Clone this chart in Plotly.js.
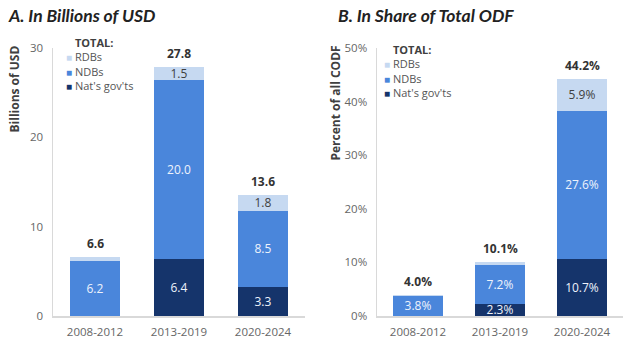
<!DOCTYPE html>
<html><head><meta charset="utf-8">
<script src="https://cdn.plot.ly/plotly-3.0.1.min.js"></script>
<style>html,body{margin:0;padding:0;background:#fff}#chart{width:636px;height:356px}</style>
</head><body><div id="chart"></div>
<script>
// ---- data ----
const periods = ["2008-2012", "2013-2019", "2020-2024"];
const seriesNames = ["Nat's gov'ts", "NDBs", "RDBs"];
// Panel A: billions of USD
const govUSD = [0, 6.4, 3.3];
const ndbUSD = [6.2, 20.0, 8.5];
const rdbUSD = [0.4, 1.5, 1.8];
const totalUSD = [6.6, 27.8, 13.6];
const govUSDLabels = ["", "6.4", "3.3"];
const ndbUSDLabels = ["6.2", "20.0", "8.5"];
const rdbUSDLabels = ["", "1.5", "1.8"];
// Panel B: share of total ODF (%)
const govPct = [0, 2.3, 10.7];
const ndbPct = [3.8, 7.2, 27.6];
const rdbPct = [0.2, 0.6, 5.9];
const totalPct = [4.0, 10.1, 44.2];
const govPctLabels = ["", "2.3%", "10.7%"];
const ndbPctLabels = ["3.8%", "7.2%", "27.6%"];
const rdbPctLabels = ["", "", "5.9%"];
const yTicksUSD = [0, 10, 20, 30];
const yTicksPct = [0, 10, 20, 30, 40, 50];

// ---- styles ----
const colors = {gov: "#15346b", ndb: "#4a86db", rdb: "#c6d9f1"};
const lightText = "#eef3fb", darkText = "#404040";
const tickFont = {family: "Open Sans", size: 11.5, color: "#666666"};
const labelFont = (c) => ({family: "Open Sans", size: 12, color: c});

function barTrace(x, y, text, color, tcol, xa, ya, name) {
  return {type: "bar", x: x, y: y, text: text, name: name, xaxis: xa, yaxis: ya,
    marker: {color: color, line: {width: 0}}, width: 0.6,
    textposition: "inside", insidetextanchor: "middle", constraintext: "none",
    textfont: labelFont(tcol), hoverinfo: "x+y+name", showlegend: false};
}
// stack heights (for placing total labels above each stacked bar)
const stackTop = (a, b, c) => a.map((v, i) => v + b[i] + c[i]);
function totalAnns(x, tops, labels, xa, ya) {
  return x.map((xv, i) => ({xref: xa, yref: ya, x: xv, y: tops[i], xanchor: "center", yanchor: "bottom",
    yshift: 3, showarrow: false, text: "<b>" + labels[i] + "</b>",
    font: {family: "Open Sans", size: 12, color: "#333333"}}));
}

const data = [
  barTrace(periods, govUSD, govUSDLabels, colors.gov, lightText, "x", "y", seriesNames[0]),
  barTrace(periods, ndbUSD, ndbUSDLabels, colors.ndb, lightText, "x", "y", seriesNames[1]),
  barTrace(periods, rdbUSD, rdbUSDLabels, colors.rdb, darkText, "x", "y", seriesNames[2]),
  barTrace(periods, govPct, govPctLabels, colors.gov, lightText, "x2", "y2", seriesNames[0]),
  barTrace(periods, ndbPct, ndbPctLabels, colors.ndb, lightText, "x2", "y2", seriesNames[1]),
  barTrace(periods, rdbPct, rdbPctLabels, colors.rdb, darkText, "x2", "y2", seriesNames[2])
];

const W = 636, H = 356;
const px = v => v / W, py = v => 1 - v / H;
const axisX = {type: "category", showline: true, linecolor: "#d9d9d9", linewidth: 1.5,
  ticks: "", showgrid: false, zeroline: false, tickfont: tickFont, ticklabelstandoff: 5};
const axisY = {showline: true, linecolor: "#d9d9d9", linewidth: 1.5, ticks: "",
  showgrid: false, zeroline: false, tickfont: tickFont, ticklabelstandoff: 6};

// legend drawn as one multi-line text block: "TOTAL:" then RDBs, NDBs, Nat's gov'ts
function legendAnn(x0, yTop) {
  const items = [[seriesNames[2], colors.rdb], [seriesNames[1], colors.ndb], [seriesNames[0], colors.gov]];
  const sq = c => '<span style="color:' + c + ';font-size:10px">■</span> ';
  const lines = [sq("rgba(0,0,0,0)") + '<b><span style="color:#404040">TOTAL:</span></b>']
    .concat(items.map(it => sq(it[1]) + it[0]));
  return [{xref: "paper", yref: "paper", x: px(x0), y: py(yTop), xanchor: "left", yanchor: "top",
    align: "left", showarrow: false, text: lines.join("<br>"),
    font: {family: "Open Sans", size: 11, color: "#555555"}}];
}

const layout = {
  width: W, height: H, margin: {l: 0, r: 0, t: 0, b: 0},
  paper_bgcolor: "#ffffff", plot_bgcolor: "#ffffff",
  barmode: "stack", showlegend: false,
  xaxis: Object.assign({}, axisX, {domain: [px(53), px(305)], anchor: "y", range: [-0.5, 2.5]}),
  yaxis: Object.assign({}, axisY, {domain: [1 - 316 / H, 1 - 48 / H], anchor: "x", range: [0, 30],
    tickvals: yTicksUSD, ticktext: yTicksUSD.map(String)}),
  xaxis2: Object.assign({}, axisX, {domain: [px(377), px(623)], anchor: "y2", range: [-0.5, 2.5]}),
  yaxis2: Object.assign({}, axisY, {domain: [1 - 316 / H, 1 - 48 / H], anchor: "x2", range: [0, 50],
    tickvals: yTicksPct, ticktext: yTicksPct.map(v => v + "%")}),
  annotations: [
    {xref: "paper", yref: "paper", x: px(6), y: py(15), xanchor: "left", yanchor: "middle", showarrow: false,
      text: "A. In Billions of USD", font: {family: "Lato", size: 17.5, weight: 700, style: "italic", color: "#222222"}},
    {xref: "paper", yref: "paper", x: px(336), y: py(15), xanchor: "left", yanchor: "middle", showarrow: false,
      text: "B. In Share of Total ODF", font: {family: "Lato", size: 17.5, weight: 700, style: "italic", color: "#222222"}},
    {xref: "paper", yref: "paper", x: px(14), y: py(44), xanchor: "center", yanchor: "top", textangle: -90, showarrow: false,
      text: "<b>Billions of USD</b>", font: {family: "Open Sans", size: 12, color: "#404040"}},
    {xref: "paper", yref: "paper", x: px(335), y: py(44), xanchor: "center", yanchor: "top", textangle: -90, showarrow: false,
      text: "<b>Percent of all CODF</b>", font: {family: "Open Sans", size: 12, color: "#404040"}}
  ].concat(legendAnn(64, 33)).concat(legendAnn(382, 40))
   .concat(totalAnns(periods, stackTop(govUSD, ndbUSD, rdbUSD), totalUSD.map(v => v.toFixed(1)), "x", "y"))
   .concat(totalAnns(periods, stackTop(govPct, ndbPct, rdbPct), totalPct.map(v => v.toFixed(1) + "%"), "x2", "y2"))
};

Plotly.newPlot("chart", data, layout, {displayModeBar: false, staticPlot: true});
</script></body></html>
